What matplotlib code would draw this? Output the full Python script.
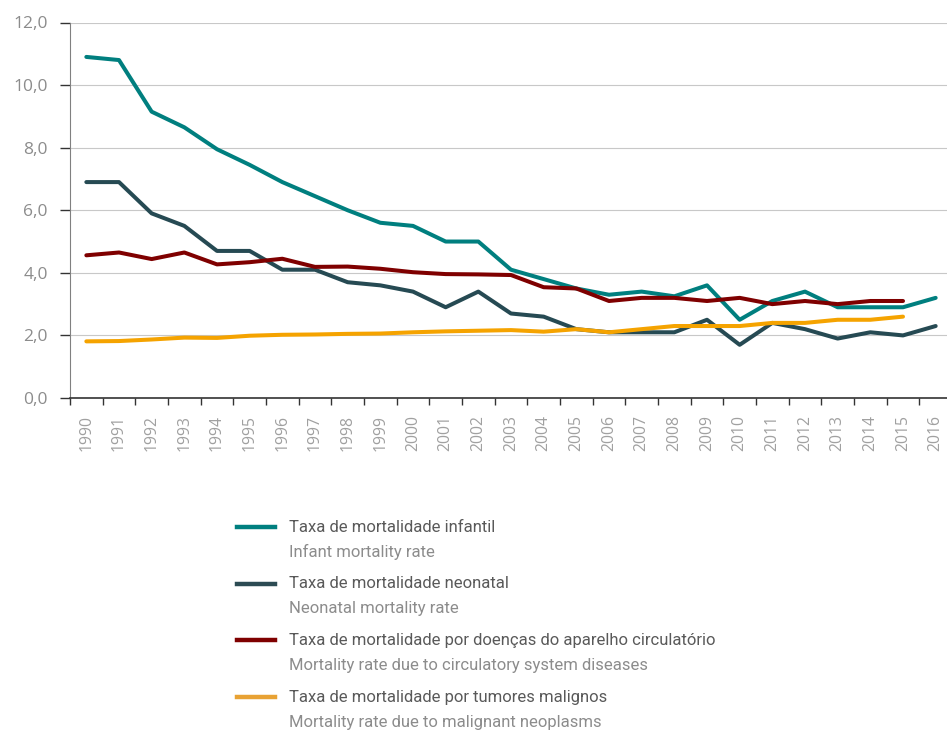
import matplotlib
matplotlib.use("Agg")
import matplotlib.pyplot as plt
from matplotlib.lines import Line2D
from matplotlib.ticker import FuncFormatter, MultipleLocator
from matplotlib import font_manager
import numpy as np

# data
years = [str(y) for y in range(1990, 2017)]

infant = [10.9, 10.8, 9.15, 8.65, 7.95, 7.45, 6.9, 6.45, 6.0, 5.6, 5.5, 5.0, 5.0,
          4.1, 3.8, 3.5, 3.3, 3.4, 3.25, 3.6, 2.5, 3.1, 3.4, 2.9, 2.9, 2.9, 3.2]
neonatal = [6.9, 6.9, 5.9, 5.5, 4.7, 4.7, 4.1, 4.1, 3.7, 3.6, 3.4, 2.9, 3.4,
            2.7, 2.6, 2.2, 2.1, 2.1, 2.1, 2.5, 1.7, 2.4, 2.2, 1.9, 2.1, 2.0, 2.3]
# last two series stop at 2015
circulatory = [4.56, 4.65, 4.44, 4.65, 4.27, 4.34, 4.45, 4.19, 4.2, 4.13, 4.02, 3.96, 3.95,
               3.93, 3.54, 3.5, 3.1, 3.2, 3.2, 3.1, 3.2, 3.0, 3.1, 3.0, 3.1, 3.1]
tumors = [1.81, 1.82, 1.87, 1.93, 1.92, 1.99, 2.02, 2.03, 2.05, 2.06, 2.1, 2.13, 2.15,
          2.17, 2.12, 2.2, 2.1, 2.2, 2.3, 2.3, 2.3, 2.4, 2.4, 2.5, 2.5, 2.6]

labels_pt = ["Taxa de mortalidade infantil",
             "Taxa de mortalidade neonatal",
             "Taxa de mortalidade por doenças do aparelho circulatório",
             "Taxa de mortalidade por tumores malignos"]
labels_en = ["Infant mortality rate",
             "Neonatal mortality rate",
             "Mortality rate due to circulatory system diseases",
             "Mortality rate due to malignant neoplasms"]
colors = ["#007f7f", "#264a53", "#7f0000", "#f5a300"]
legend_colors = ["#007f7f", "#2c4b53", "#7f0000", "#e8a234"]

# pick a narrow font for the legend if there is one
names = set(f.name for f in font_manager.fontManager.ttflist)
legend_font = "Liberation Sans Narrow" if "Liberation Sans Narrow" in names else "Roboto"
tick_font = "Open Sans"

fig = plt.figure(figsize=(9.47, 7.31), dpi=100)
ax = fig.add_axes([70/947, 1-398/731, 882/947, 375.5/731])

x = np.arange(len(years))
series = [infant, neonatal, circulatory, tumors]
for vals, c in zip(series, colors):
    ax.plot(x[:len(vals)], vals, color=c, lw=2.9, solid_joinstyle="round",
            solid_capstyle="round", zorder=3)

ax.set_xlim(-0.5, len(years) - 0.5)
ax.set_ylim(0, 12)
ax.yaxis.set_major_locator(MultipleLocator(2))
ax.yaxis.set_major_formatter(FuncFormatter(lambda v, p: ("%.1f" % v).replace(".", ",")))
ax.set_xticks(x)
ax.set_xticklabels(years, rotation=90, fontsize=11.3, color="#a0a0a0", family=tick_font)
ax.set_xticks(np.arange(-0.5, len(years)), minor=True)
ax.tick_params(axis="x", which="major", length=0, pad=12)
ax.tick_params(axis="x", which="minor", length=5, width=1, color="#333333", direction="out")
ax.tick_params(axis="y", length=7, width=1, color="#333333", pad=9, labelsize=12.5,
               labelcolor="#8c8c8c")
for t in ax.get_yticklabels():
    t.set_family(tick_font)

ax.grid(axis="y", color="#c8c8c8", lw=0.8, zorder=0)
ax.yaxis.get_gridlines()[-1].set_color("#f0f0f0")
ax.yaxis.get_gridlines()[0].set_visible(False)
for s in ["top", "right"]:
    ax.spines[s].set_visible(False)
ax.spines["left"].set_color("#808080")
ax.spines["bottom"].set_color("#333333")
ax.spines["bottom"].set_linewidth(1.2)

# legend, two lines of text per entry
W, H = 947.0, 731.0
y0 = 527
for i in range(4):
    yy = y0 + i * 56.7
    fig.add_artist(Line2D([237/W, 275/W], [1-yy/H, 1-yy/H], color=legend_colors[i], lw=3.2))
    fig.text(289/W, 1-yy/H, labels_pt[i], family=legend_font, fontsize=12,
             color="#595959", va="center")
    fig.text(289/W, 1-(yy+25)/H, labels_en[i], family=legend_font, fontsize=12,
             color="#8c8c8c", va="center")

fig.savefig("out.png", dpi=100)
